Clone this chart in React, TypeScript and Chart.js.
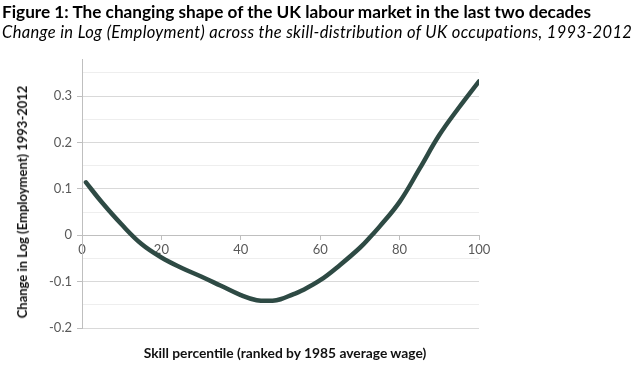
import React, { useEffect, useRef } from "react";
import { Chart, registerables } from "chart.js";

Chart.register(...registerables);

const skillPercentile = [1, 5, 10, 15, 20, 25, 30, 35, 40, 44, 48, 50, 53, 55, 60, 65, 70, 73, 75, 80, 85, 90, 95, 100];
const employmentChange = [
  0.114, 0.071, 0.023, -0.019, -0.048, -0.07, -0.089, -0.109, -0.129, -0.14, -0.141, -0.138, -0.128, -0.121,
  -0.097, -0.064, -0.027, 0.0, 0.019, 0.072, 0.143, 0.216, 0.276, 0.332,
];
const xTickStep = 20;
const yMin = -0.2;
const yMax = 0.38;
const yStep = 0.05;

const titleText = "Figure 1: The changing shape of the UK labour market in the last two decades";
const subtitleText = "Change in Log (Employment) across the skill-distribution of UK occupations, 1993-2012";
const yTitleText = "Change in Log (Employment) 1993-2012";
const xTitleText = "Skill percentile (ranked by 1985 average wage)";

const FONT = "Lato, 'Open Sans', sans-serif";

function isMajor(v: number) {
  return Math.abs(v * 10 - Math.round(v * 10)) < 1e-6;
}

export default function App() {
  const ref = useRef<HTMLCanvasElement | null>(null);

  useEffect(() => {
    if (!ref.current) return;
    const chart = new Chart(ref.current, {
      type: "line",
      data: {
        datasets: [
          {
            data: skillPercentile.map((x, i) => ({ x, y: employmentChange[i] })),
            borderColor: "#2e4a44",
            borderWidth: 4.5,
            borderCapStyle: "round",
            borderJoinStyle: "round",
            pointRadius: 0,
            tension: 0.4,
            fill: false,
          },
        ],
      },
      options: {
        responsive: false,
        animation: false,
        devicePixelRatio: 1,
        layout: { padding: { left: 0, top: 59, right: 161, bottom: 43 } },
        plugins: { legend: { display: false }, tooltip: { enabled: false } },
        scales: {
          x: {
            type: "linear",
            position: { y: 0 } as any,
            min: 0,
            max: 100,
            ticks: {
              stepSize: xTickStep,
              color: "#595959",
              font: { family: FONT, size: 13 },
              padding: 3,
              maxRotation: 0,
            },
            grid: { drawOnChartArea: false, drawTicks: true, tickLength: 4, color: "#bfbfbf" },
            border: { display: true, color: "#bfbfbf", width: 1 },
          },
          y: {
            type: "linear",
            min: yMin,
            max: yMax,
            afterFit: (scale: any) => {
              scale.width = 82;
            },
            ticks: {
              stepSize: yStep,
              includeBounds: false,
              autoSkip: false,
              color: "#595959",
              font: { family: FONT, size: 13 },
              padding: 5,
              callback: (v: any) => {
                const n = Number(v);
                if (!isMajor(n)) return "";
                const r = Math.round(n * 10);
                return r === 0 ? "0" : (r / 10).toString();
              },
            },
            grid: {
              color: (ctx: any) => (isMajor(ctx.tick.value) ? "#d9d9d9" : "#eeeeee"),
              tickColor: (ctx: any) => (isMajor(ctx.tick.value) ? "#bfbfbf" : "rgba(0,0,0,0)"),
              tickLength: 5,
              drawTicks: true,
            },
            border: { display: true, color: "#bfbfbf", width: 1 },
          },
        },
      },
    });
    return () => chart.destroy();
  }, []);

  return (
    <div style={{ position: "fixed", left: 0, top: 0, width: 640, height: 371, background: "#fff", overflow: "hidden" }}>
      <canvas ref={ref} width={640} height={371} style={{ position: "absolute", left: 0, top: 0 }} />
      <div
        style={{
          position: "absolute",
          left: 2,
          top: 1,
          fontFamily: FONT,
          fontWeight: 700,
          fontSize: 17.2,
          color: "#000",
          whiteSpace: "nowrap",
          lineHeight: "21px",
        }}
      >
        {titleText}
      </div>
      <div
        style={{
          position: "absolute",
          left: 2,
          top: 22,
          fontFamily: FONT,
          fontStyle: "italic",
          fontSize: 16.5,
          letterSpacing: 0.35,
          color: "#000",
          whiteSpace: "nowrap",
          lineHeight: "21px",
        }}
      >
        {subtitleText}
      </div>
      <div
        style={{
          position: "absolute",
          left: 22,
          top: 202,
          transform: "translate(-50%, -50%) rotate(-90deg)",
          fontFamily: FONT,
          fontWeight: 700,
          fontSize: 13,
          color: "#111",
          whiteSpace: "nowrap",
        }}
      >
        {yTitleText}
      </div>
      <div
        style={{
          position: "absolute",
          left: 285,
          top: 352,
          transform: "translate(-50%, -50%)",
          fontFamily: FONT,
          fontWeight: 700,
          fontSize: 13.8,
          color: "#111",
          whiteSpace: "nowrap",
        }}
      >
        {xTitleText}
      </div>
    </div>
  );
}
